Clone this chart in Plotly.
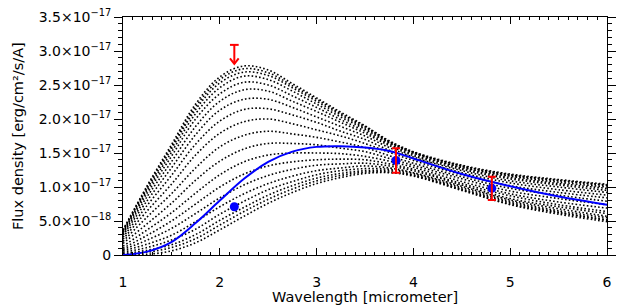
import plotly.graph_objects as go

# Wavelength grid (micrometer) for the model curves and fit
wavelength = [1.0, 1.25, 1.5, 1.75, 2.0, 2.25, 2.5, 2.75, 3.0, 3.25, 3.5, 3.75, 4.0, 4.5, 5.0, 5.5, 6.0]

# Model SEDs, flux density in units of 1e-17 erg/cm2/s/A
model_01 = [0.37, 1.02, 1.62, 2.22, 2.62, 2.78, 2.72, 2.52, 2.31, 2.10, 1.90, 1.68, 1.52, 1.32, 1.19, 1.11, 1.04]
model_02 = [0.36, 1.00, 1.59, 2.18, 2.58, 2.74, 2.68, 2.49, 2.29, 2.08, 1.89, 1.67, 1.51, 1.31, 1.18, 1.10, 1.03]
model_03 = [0.36, 0.98, 1.56, 2.14, 2.53, 2.69, 2.64, 2.46, 2.26, 2.06, 1.87, 1.66, 1.51, 1.31, 1.17, 1.09, 1.02]
model_04 = [0.34, 0.95, 1.51, 2.08, 2.46, 2.63, 2.58, 2.41, 2.22, 2.03, 1.85, 1.65, 1.50, 1.29, 1.16, 1.07, 1.00]
model_05 = [0.33, 0.91, 1.45, 2.00, 2.37, 2.54, 2.50, 2.34, 2.17, 1.99, 1.82, 1.63, 1.48, 1.28, 1.14, 1.05, 0.98]
model_06 = [0.31, 0.86, 1.37, 1.89, 2.26, 2.43, 2.41, 2.26, 2.11, 1.95, 1.79, 1.61, 1.46, 1.26, 1.12, 1.03, 0.95]
model_07 = [0.29, 0.80, 1.28, 1.77, 2.13, 2.29, 2.29, 2.17, 2.03, 1.89, 1.75, 1.58, 1.44, 1.24, 1.09, 1.00, 0.92]
model_08 = [0.26, 0.73, 1.17, 1.63, 1.97, 2.14, 2.15, 2.06, 1.95, 1.82, 1.70, 1.54, 1.42, 1.21, 1.06, 0.96, 0.88]
model_09 = [0.23, 0.65, 1.04, 1.47, 1.79, 1.96, 2.00, 1.93, 1.84, 1.75, 1.64, 1.51, 1.39, 1.18, 1.02, 0.92, 0.84]
model_10 = [0.20, 0.56, 0.90, 1.28, 1.59, 1.76, 1.82, 1.78, 1.73, 1.66, 1.58, 1.46, 1.35, 1.15, 0.98, 0.88, 0.79]
model_11 = [0.17, 0.46, 0.76, 1.10, 1.38, 1.56, 1.64, 1.64, 1.62, 1.57, 1.52, 1.42, 1.32, 1.12, 0.94, 0.83, 0.74]
model_12 = [0.13, 0.37, 0.62, 0.91, 1.18, 1.37, 1.47, 1.50, 1.50, 1.49, 1.45, 1.38, 1.29, 1.08, 0.90, 0.78, 0.69]
model_13 = [0.10, 0.29, 0.50, 0.75, 1.00, 1.19, 1.31, 1.37, 1.40, 1.41, 1.40, 1.34, 1.26, 1.05, 0.87, 0.74, 0.64]
model_14 = [0.08, 0.22, 0.39, 0.61, 0.84, 1.03, 1.17, 1.26, 1.32, 1.34, 1.35, 1.31, 1.24, 1.03, 0.83, 0.71, 0.61]
model_15 = [0.06, 0.16, 0.29, 0.49, 0.71, 0.90, 1.05, 1.16, 1.24, 1.28, 1.31, 1.28, 1.21, 1.01, 0.81, 0.68, 0.57]
model_16 = [0.04, 0.11, 0.22, 0.38, 0.60, 0.79, 0.96, 1.08, 1.18, 1.24, 1.27, 1.26, 1.20, 0.99, 0.79, 0.65, 0.55]
model_17 = [0.02, 0.07, 0.15, 0.30, 0.51, 0.70, 0.88, 1.02, 1.13, 1.20, 1.24, 1.24, 1.18, 0.97, 0.77, 0.63, 0.52]
model_18 = [0.01, 0.04, 0.11, 0.24, 0.44, 0.64, 0.82, 0.97, 1.09, 1.17, 1.22, 1.22, 1.17, 0.96, 0.75, 0.62, 0.51]
model_19 = [0.00, 0.01, 0.06, 0.18, 0.37, 0.57, 0.76, 0.92, 1.05, 1.14, 1.20, 1.21, 1.16, 0.95, 0.74, 0.60, 0.49]
models = [model_01, model_02, model_03, model_04, model_05, model_06, model_07, model_08, model_09,
          model_10, model_11, model_12, model_13, model_14, model_15, model_16, model_17, model_18, model_19]

# Best-fit model (blue)
best_fit = [0.00, 0.05, 0.19, 0.47, 0.80, 1.12, 1.37, 1.52, 1.59, 1.60, 1.58, 1.53, 1.42, 1.19, 1.01, 0.86, 0.74]

# Observed photometry
obs_wavelength = [3.82, 4.81]
obs_flux = [1.39, 0.98]
obs_err_plus = [0.18, 0.17]
obs_err_minus = [0.18, 0.17]
model_point_wavelength = [2.15, 3.82, 4.81]
model_point_flux = [0.71, 1.39, 0.98]
upper_limit_wavelength = [2.15]
upper_limit_flux = [3.09]
upper_limit_arrow = 0.28

# Axis ticks and titles
y_tickvals = [0, 0.5, 1.0, 1.5, 2.0, 2.5, 3.0, 3.5]
y_ticktext = ["0", "5.0×10<sup>−18</sup>", "1.0×10<sup>−17</sup>", "1.5×10<sup>−17</sup>",
              "2.0×10<sup>−17</sup>", "2.5×10<sup>−17</sup>", "3.0×10<sup>−17</sup>", "3.5×10<sup>−17</sup>"]
x_tickvals = [1, 2, 3, 4, 5, 6]
x_title = "Wavelength [micrometer]"
y_title = "Flux density [erg/cm²/s/A]"

FONT = "DejaVu Sans, Verdana, sans-serif"
RED = "#ff0000"
BLUE = "#0000ff"

fig = go.Figure()
for m in models:
    fig.add_trace(go.Scatter(x=wavelength, y=m, mode="lines", line_shape="spline",
                             line=dict(color="black", width=1.6, dash="1.6px,2.2px"),
                             hoverinfo="skip", showlegend=False))

fig.add_trace(go.Scatter(x=wavelength, y=best_fit, mode="lines", line_shape="spline",
                         line=dict(color=BLUE, width=2), showlegend=False))

fig.add_trace(go.Scatter(x=model_point_wavelength, y=model_point_flux, mode="markers",
                         marker=dict(color=BLUE, size=9), showlegend=False))

fig.add_trace(go.Scatter(x=obs_wavelength, y=obs_flux, mode="markers",
                         marker=dict(color="rgba(0,0,0,0)", size=1),
                         error_y=dict(type="data", symmetric=False, array=obs_err_plus,
                                      arrayminus=obs_err_minus, color=RED,
                                      thickness=2, width=4),
                         showlegend=False))

# Upper limit: cap, shaft and open arrowhead
head_dx, head_dy = 0.045, 0.08
for ux, uy in zip(upper_limit_wavelength, upper_limit_flux):
    tip = uy - upper_limit_arrow
    fig.add_trace(go.Scatter(x=[ux - 0.045, ux + 0.045, None, ux, ux, None,
                                ux - head_dx, ux, ux + head_dx],
                             y=[uy, uy, None, uy, tip, None, tip + head_dy, tip, tip + head_dy],
                             mode="lines", line=dict(color=RED, width=2),
                             hoverinfo="skip", showlegend=False))

fig.update_xaxes(range=[1, 6], tickvals=x_tickvals, ticks="inside", ticklen=7, tickwidth=1,
                 tickcolor="black", showline=True, linecolor="black", linewidth=1,
                 mirror="ticks", showgrid=False, zeroline=False, automargin=False,
                 ticklabelstandoff=14, ticklabeloverflow="allow",
                 minor=dict(dtick=0.1, tick0=1, ticks="inside", ticklen=3, tickcolor="black"),
                 tickfont=dict(family=FONT, size=14, color="black"))
fig.update_yaxes(range=[0, 3.5], tickvals=y_tickvals, ticktext=y_ticktext, ticks="outside",
                 ticklen=8, tickwidth=1, tickcolor="black", showline=True, linecolor="black",
                 linewidth=1, mirror="ticks", showgrid=False, zeroline=False, automargin=False,
                 ticklabeloverflow="allow",
                 minor=dict(dtick=0.1, tick0=0, ticks="outside", ticklen=4, tickcolor="black"),
                 tickfont=dict(family=FONT, size=14, color="black"))

# Axis titles as annotations (positioned relative to the plot area)
fig.add_annotation(text=x_title, xref="paper", yref="paper", x=0.5, y=0, yanchor="middle",
                   yshift=-42, showarrow=False, font=dict(family=FONT, size=14.5, color="black"))
fig.add_annotation(text=y_title, xref="paper", yref="paper", x=0, y=0.5, xanchor="center",
                   yanchor="middle", xshift=-105, textangle=-90, showarrow=False,
                   font=dict(family=FONT, size=14.5, color="black"))

# page body adds an 8px margin, so the figure is 8px smaller than the window
fig.update_layout(width=622, height=300, margin=dict(l=115, r=23, t=9, b=53),
                  paper_bgcolor="white", plot_bgcolor="white", showlegend=False)

fig.write_html("out.html")
